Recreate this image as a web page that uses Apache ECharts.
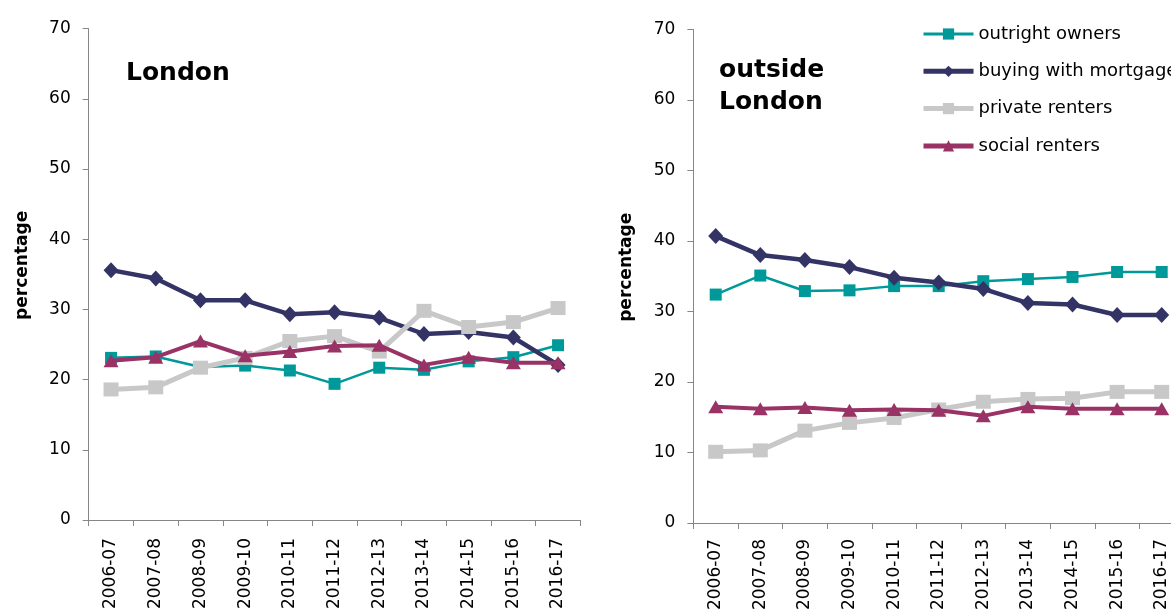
<!DOCTYPE html>
<html>
<head>
<meta charset="utf-8">
<script src="https://cdn.jsdelivr.net/npm/echarts@6/dist/echarts.min.js"></script>
<style>html,body{margin:0;padding:0;background:#fff;}#c{width:1171px;height:612px;}</style>
</head>
<body>
<div id="c"></div>
<script>
var categories = ['2006-07','2007-08','2008-09','2009-10','2010-11','2011-12','2012-13','2013-14','2014-15','2015-16','2016-17'];
var seriesNames = ['outright owners','buying with mortgage','private renters','social renters'];
var yTicks = [0, 70, 10]; // min, max, interval

// London
var londonOutright = [23.1, 23.3, 21.8, 22.0, 21.3, 19.4, 21.7, 21.4, 22.6, 23.2, 24.9];
var londonMortgage = [35.6, 34.4, 31.3, 31.3, 29.3, 29.6, 28.8, 26.5, 26.8, 26.0, 22.1];
var londonPrivate  = [18.6, 18.9, 21.7, 23.1, 25.5, 26.2, 24.0, 29.8, 27.5, 28.2, 30.2];
var londonSocial   = [22.7, 23.2, 25.5, 23.4, 24.0, 24.8, 24.9, 22.1, 23.2, 22.4, 22.4];

// outside London
var outOutright = [32.4, 35.1, 32.9, 33.0, 33.6, 33.6, 34.3, 34.6, 34.9, 35.6, 35.6];
var outMortgage = [40.7, 38.0, 37.3, 36.3, 34.8, 34.1, 33.2, 31.2, 31.0, 29.5, 29.5];
var outPrivate  = [10.1, 10.3, 13.1, 14.2, 14.9, 16.1, 17.2, 17.6, 17.7, 18.6, 18.6];
var outSocial   = [16.5, 16.2, 16.4, 16.0, 16.1, 16.0, 15.2, 16.5, 16.2, 16.2, 16.2];

var colors = ['#009999', '#333366', '#C8C8C8', '#993366'];
var symbols = ['rect', 'diamond', 'rect', 'triangle'];
var symbolSizes = [[12,12], [15,16], [15,14], [15,13]];
var lineWidths = [2.5, 4.5, 5, 4];
var legendLineWidths = [3, 5, 5, 5];

var FONT = 'DejaVu Sans';
var axisGray = '#868686';

function xAxis(gi, margin) {
  return {
    type: 'category', gridIndex: gi, data: categories, boundaryGap: true,
    axisLine: {show: true, lineStyle: {color: axisGray, width: 1}},
    axisTick: {show: true, interval: 0, length: 6, lineStyle: {color: axisGray}},
    axisLabel: {interval: 0, rotate: 90, margin: margin, color: '#000', fontFamily: FONT, fontSize: 17},
    splitLine: {show: false}
  };
}
function yAxis(gi, margin) {
  return {
    type: 'value', gridIndex: gi, min: yTicks[0], max: yTicks[1], interval: yTicks[2],
    name: 'percentage', nameLocation: 'middle', nameGap: 58, nameRotate: 90,
    nameTextStyle: {fontFamily: FONT, fontWeight: 'bold', fontSize: 17, color: '#000', padding: [0, 0, 0, 18]},
    axisLine: {show: true, lineStyle: {color: axisGray, width: 1}},
    axisTick: {show: true, length: 6, lineStyle: {color: axisGray}},
    axisLabel: {margin: margin, color: '#000', fontFamily: FONT, fontSize: 17},
    splitLine: {show: false}
  };
}
var allData = [
  [londonOutright, londonMortgage, londonPrivate, londonSocial],
  [outOutright, outMortgage, outPrivate, outSocial]
];
var series = [];
for (var g = 0; g < 2; g++) {
  for (var i = 0; i < 4; i++) {
    series.push({
      type: 'line', name: seriesNames[i], xAxisIndex: g, yAxisIndex: g,
      data: allData[g][i], symbol: symbols[i], symbolSize: symbolSizes[i],
      showAllSymbol: true, animation: false, z: 2 + i,
      lineStyle: {color: colors[i], width: lineWidths[i]},
      itemStyle: {color: colors[i]},
      emphasis: {disabled: true}
    });
  }
}
var legendData = seriesNames.map(function (n, i) {
  return {name: n, lineStyle: {width: legendLineWidths[i], color: colors[i]}, itemStyle: {color: colors[i]}};
});

var chart = echarts.init(document.getElementById('c'), null, {renderer: 'canvas'});
chart.setOption({
  animation: false,
  backgroundColor: '#fff',
  grid: [
    {left: 88.7, top: 28.7, width: 491.7, height: 491.3, containLabel: false, outerBoundsMode: 'none'},
    {left: 693.4, top: 29.5, width: 490.6, height: 493.5, containLabel: false, outerBoundsMode: 'none'}
  ],
  xAxis: [xAxis(0, 18), xAxis(1, 16)],
  yAxis: [yAxis(0, 18), yAxis(1, 18)],
  legend: {
    orient: 'vertical', left: 916, top: 20, itemWidth: 50, itemHeight: 14, itemGap: 19.3,
    data: legendData,
    textStyle: {fontFamily: FONT, fontSize: 18, color: '#000'},
    selectedMode: false
  },
  graphic: [
    {type: 'text', left: 126, top: 61, style: {text: 'London', font: 'bold 25px "DejaVu Sans"', fill: '#000'}},
    {type: 'text', left: 719, top: 54, style: {text: 'outside\nLondon', font: 'bold 25px "DejaVu Sans"', lineHeight: 32, fill: '#000'}}
  ],
  series: series
});
</script>
</body>
</html>
